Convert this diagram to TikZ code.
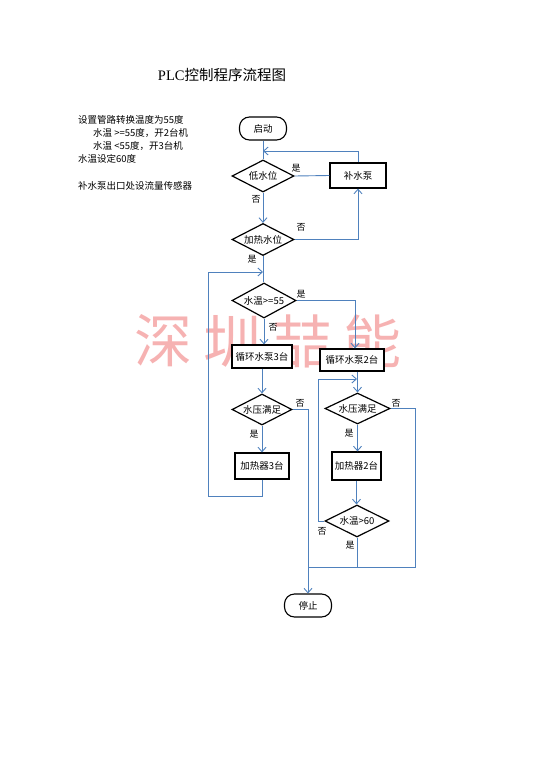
\documentclass[tikz,border=0pt]{standalone}
\usepackage{fontspec}
\setmainfont{Noto Sans CJK SC}
\newfontfamily\serifpl{Liberation Serif}
\usetikzlibrary{shapes.geometric,arrows.meta}
\definecolor{lineblue}{RGB}{79,129,189}
\definecolor{wmred}{RGB}{246,178,178}
\begin{document}
\begin{tikzpicture}[x=1pt,y=-1pt,
  terminal/.style={draw=black,fill=white,rounded corners=10pt,line width=1.1pt,minimum width=47pt,minimum height=23pt,inner sep=1pt,font=\fontsize{9.5}{11}\selectfont},
  proc/.style={draw=black,fill=white,line width=1.2pt,inner sep=1pt,font=\fontsize{9.5}{11}\selectfont},
  dec/.style={draw=black,fill=white,diamond,aspect=2,inner sep=0pt,line width=1.2pt,minimum width=62pt,minimum height=32pt,font=\fontsize{9.5}{11}\selectfont},
  flow/.style={draw=lineblue,line width=0.9pt},
  arr/.style={flow,-{Straight Barb[length=4.5pt,width=8pt]}},
  lbl/.style={font=\fontsize{9}{10}\selectfont,inner sep=0pt},
  note/.style={anchor=west,inner sep=0pt,font=\fontsize{9.5}{12}\selectfont},
  wm/.style={text=wmred,inner sep=0pt,font=\fontsize{58}{60}\selectfont}]
\useasboundingbox (0,0) rectangle (535,757);
% watermark
\node[wm] (w1) at (163,341) {深};
\node[wm] (w2) at (232,341) {圳};
\node[wm] (w3) at (302,341) {喆};
\node[wm] (w4) at (372,341) {能};
% title and notes
\node[inner sep=0pt,font=\fontsize{14.5}{16}\selectfont] (title) at (222,75) {{\serifpl PLC}控制程序流程图};
\node[note] (n1) at (78,120) {设置管路转换温度为55度};
\node[note] (n2) at (93,133) {水温 >=55度，开2台机};
\node[note] (n3) at (93,146) {水温 <55度，开3台机};
\node[note] (n4) at (78,159) {水温设定60度};
\node[note] (n5) at (78,186) {补水泵出口处设流量传感器};
% nodes
\node[terminal] (start) at (263,128.5) {启动};
\node[dec] (low) at (263,176) {低水位};
\node[proc,minimum width=56pt,minimum height=25pt] (pump) at (358,175.5) {补水泵};
\node[dec] (heatlvl) at (263,239.5) {加热水位};
\node[dec,minimum width=64pt,minimum height=35pt] (t55) at (264,300.5) {水温>=55};
\node[proc,minimum width=60pt,minimum height=23pt] (c3) at (262,356.5) {循环水泵3台};
\node[proc,minimum width=64pt,minimum height=22pt] (c2) at (352,360) {循环水泵2台};
\node[dec,minimum width=60pt,minimum height=31pt] (pL) at (262,409.5) {水压满足};
\node[proc,minimum width=54pt,minimum height=26pt] (h3) at (262,466) {加热器3台};
\node[dec,minimum width=65pt,minimum height=31pt] (pR) at (357.5,408.5) {水压满足};
\node[proc,minimum width=49pt,minimum height=28pt] (h2) at (356.5,466) {加热器2台};
\node[dec,minimum width=64pt,minimum height=32pt] (t60) at (357,521) {水温>60};
\node[terminal] (stop) at (308,605.5) {停止};
% junction coordinates
\coordinate (j1) at (263,151);
\coordinate (j2) at (263,272);
\coordinate (l1) at (208,496);
\coordinate (j3) at (357,379);
\coordinate (l2) at (318,521);
\coordinate (m) at (308,567);
\coordinate (r2) at (415,567);
% connectors
\draw[flow] (start) -- (low);
\draw[arr] (pump.north) |- (j1);
\draw[flow] (low.east) -- (pump.west);
\draw[arr] (low.south) -- (heatlvl.north);
\draw[arr] (heatlvl.east) -| (pump.south);
\draw[flow] (heatlvl.south) -- (heatlvl.south |- t55.north);
\draw[arr] (h3.south) |- (l1) |- (j2);
\draw[arr] (t55.east) -| ([xshift=3pt]c2.north);
\draw[arr] (t55.south) -- (t55.south |- c3.north);
\draw[arr] (c3.south) -- (pL.north);
\draw[arr] (pL.south) -- (h3.north);
\draw[arr] (pL.east) -| (stop.north);
\draw[flow] (pR.east) -| (r2) -- (m);
\draw[arr] (c2.south -| pR.north) -- (pR.north);
\draw[arr] (pR.south) -- (pR.south |- h2.north);
\draw[arr] (h2.south) -- (h2.south |- t60.north);
\draw[flow] (t60.south) -- (t60.south |- m);
\draw[arr] (t60.west) -- (l2) |- (j3);
% labels
\node[lbl] (y1) at (296,168) {是};
\node[lbl] (n1l) at (256,199) {否};
\node[lbl] (n2l) at (301,227) {否};
\node[lbl] (y2) at (252,259) {是};
\node[lbl] (y3) at (301,294) {是};
\node[lbl] (n3l) at (273,327) {否};
\node[lbl] (n4l) at (300,403) {否};
\node[lbl] (y4) at (254,434) {是};
\node[lbl] (n5l) at (396,403) {否};
\node[lbl] (y5) at (349,433) {是};
\node[lbl] (n6l) at (322,531) {否};
\node[lbl] (y6) at (350,545) {是};
\end{tikzpicture}
\end{document}
